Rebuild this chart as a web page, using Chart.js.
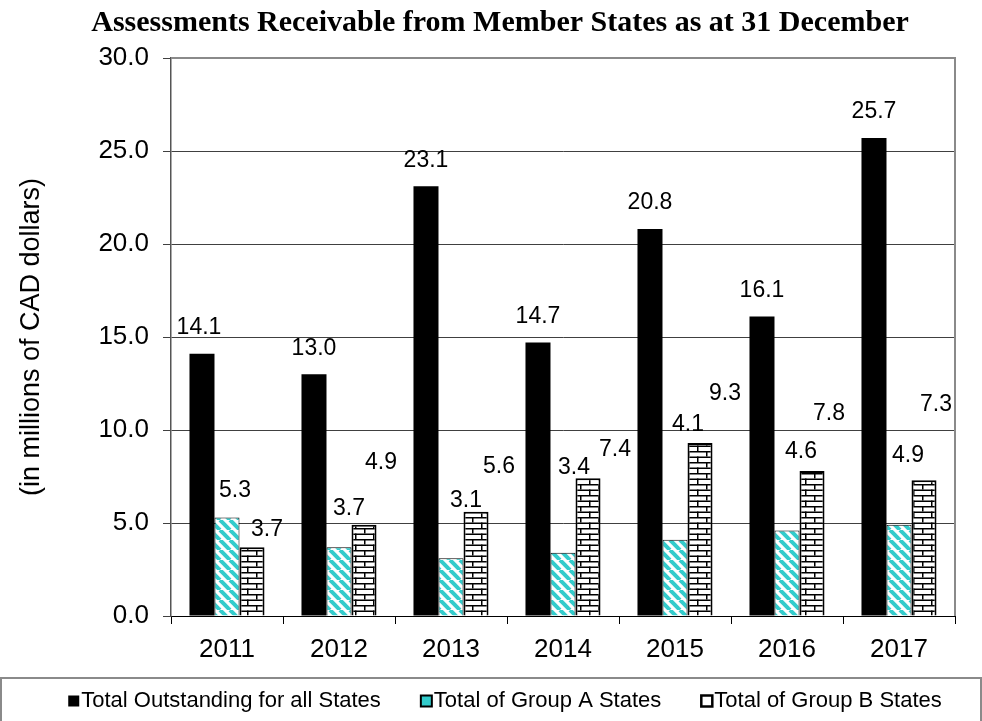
<!DOCTYPE html>
<html>
<head>
<meta charset="utf-8">
<script src="https://cdn.jsdelivr.net/npm/chart.js@4.4.1/dist/chart.umd.min.js"></script>
<style>
    html, body { margin: 0; padding: 0; background: #fff; }
    #wrap { width: 982px; height: 721px; }
</style>
</head>
<body>
<div id="wrap"><canvas id="assessmentsChart" width="982" height="721"></canvas></div>
<script>
const years = ['2011', '2012', '2013', '2014', '2015', '2016', '2017'];
const totalOutstanding = [14.1, 13.0, 23.1, 14.7, 20.8, 16.1, 25.7];
const groupA = [5.3, 3.7, 3.1, 3.4, 4.1, 4.6, 4.9];
const groupB = [3.7, 4.9, 5.6, 7.4, 9.3, 7.8, 7.3];
const yTicks = [0, 5, 10, 15, 20, 25, 30];

const chartTitle = 'Assessments Receivable from Member States as at 31 December';
const yTitle = '(in millions of CAD dollars)';
const seriesNames = [
    'Total Outstanding for all States',
    'Total of Group A States',
    'Total of Group B States'
];

// label nudges in px relative to the top of each bar (the labels in the original were dragged around)
const labelNudges = [
    [[-3, -26], [0, -26], [0, -26], [0, -26], [0, -26], [0, -26], [0, -26]],
    [[8, -27], [10, -39], [15, -58], [11, -85], [13, -115], [14, -79], [9, -69]],
    [[15, -18], [17, -62], [23, -45], [27, -29], [25, -49], [17, -57], [12, -76]]
];

const CYAN = '#33cccc';
const FONT = 'Arial, "Liberation Sans", sans-serif';

function stripePattern(ctx) {
    const c = document.createElement('canvas');
    c.width = 10;
    c.height = 10;
    const g = c.getContext('2d');
    g.fillStyle = '#fff';
    g.fillRect(0, 0, 10, 10);
    g.strokeStyle = CYAN;
    g.lineWidth = 4;
    [-10, 0, 10].forEach(off => {
        g.beginPath();
        g.moveTo(off, 0);
        g.lineTo(off + 10, 10);
        g.stroke();
    });
    return ctx.createPattern(c, 'repeat');
}

function brickPattern(ctx) {
    const c = document.createElement('canvas');
    c.width = 18;
    c.height = 11;
    const g = c.getContext('2d');
    g.fillStyle = '#fff';
    g.fillRect(0, 0, 18, 11);
    g.fillStyle = '#000';
    g.fillRect(0, 0, 18, 1.5);
    g.fillRect(0, 5.5, 18, 1.5);
    g.fillRect(4, 0, 1.5, 5.5);
    g.fillRect(13, 5.5, 1.5, 5.5);
    return ctx.createPattern(c, 'repeat');
}

const frameAndLabels = {
    id: 'frameAndLabels',
    afterDatasetsDraw(chart) {
        const ctx = chart.ctx;
        const area = chart.chartArea;

        // plot border top/right
        ctx.save();
        ctx.strokeStyle = '#8a8a8a';
        ctx.lineWidth = 2;
        ctx.beginPath();
        ctx.moveTo(area.left, area.top);
        ctx.lineTo(area.right, area.top);
        ctx.lineTo(area.right, area.bottom);
        ctx.stroke();
        ctx.restore();

        // value labels
        ctx.save();
        ctx.font = '23px ' + FONT;
        ctx.fillStyle = '#000';
        ctx.textAlign = 'center';
        ctx.textBaseline = 'middle';
        chart.data.datasets.forEach((ds, i) => {
            chart.getDatasetMeta(i).data.forEach((bar, j) => {
                const nudge = labelNudges[i][j];
                ctx.fillText(ds.data[j].toFixed(1), bar.x + nudge[0], bar.y + nudge[1]);
            });
        });
        ctx.restore();
    },
    afterDraw(chart) {
        const ctx = chart.ctx;
        ctx.save();

        // title
        ctx.fillStyle = '#000';
        ctx.font = 'bold 30px "Liberation Serif", "Times New Roman", serif';
        ctx.textAlign = 'center';
        ctx.textBaseline = 'middle';
        ctx.fillText(chartTitle, 500, 23);

        // legend frame
        ctx.strokeStyle = '#8a8a8a';
        ctx.lineWidth = 2;
        ctx.strokeRect(1, 678, 980, 60);

        ctx.font = '22px ' + FONT;
        ctx.textBaseline = 'middle';
        ctx.textAlign = 'left';
        const box = 11, gapText = 2, gapItem = 40;
        const widths = seriesNames.map(n => box + gapText + ctx.measureText(n).width);
        const total = widths.reduce((a, b) => a + b, 0) + gapItem * (widths.length - 1);
        let x = 505 - total / 2;
        const cy = 701;
        seriesNames.forEach((name, i) => {
            const bx = x, by = cy - box / 2;
            if (i === 0) {
                ctx.fillStyle = '#000';
                ctx.fillRect(bx, by, box, box);
            } else if (i === 1) {
                ctx.fillStyle = CYAN;
                ctx.fillRect(bx, by, box, box);
                ctx.strokeStyle = '#000';
                ctx.lineWidth = 2;
                ctx.strokeRect(bx, by, box, box);
            } else {
                ctx.fillStyle = '#fff';
                ctx.fillRect(bx, by, box, box);
                ctx.strokeStyle = '#000';
                ctx.lineWidth = 2.5;
                ctx.strokeRect(bx, by, box, box);
            }
            ctx.fillStyle = '#000';
            ctx.fillText(name, bx + box + gapText, cy);
            x += widths[i] + gapItem;
        });
        ctx.restore();
    }
};

document.addEventListener('DOMContentLoaded', function() {
    const ctx = document.getElementById('assessmentsChart').getContext('2d');

    new Chart(ctx, {
        type: 'bar',
        data: {
            labels: years,
            datasets: [
                {
                    label: seriesNames[0],
                    data: totalOutstanding,
                    backgroundColor: '#000',
                    borderWidth: 0
                },
                {
                    label: seriesNames[1],
                    data: groupA,
                    backgroundColor: stripePattern(ctx),
                    borderColor: '#000',
                    borderWidth: 1
                },
                {
                    label: seriesNames[2],
                    data: groupB,
                    backgroundColor: brickPattern(ctx),
                    borderColor: '#000',
                    borderWidth: 2
                }
            ]
        },
        options: {
            responsive: false,
            animation: false,
            layout: {
                padding: { left: 0, right: 27, top: 58, bottom: 55 }
            },
            datasets: {
                bar: {
                    categoryPercentage: 0.67,
                    barPercentage: 1.0
                }
            },
            scales: {
                x: {
                    grid: {
                        drawOnChartArea: false,
                        tickLength: 8,
                        color: '#000'
                    },
                    border: { color: '#000', width: 1 },
                    ticks: {
                        color: '#000',
                        font: { family: FONT, size: 26 },
                        padding: 10
                    },
                    afterFit(scale) {
                        scale.height = 50;
                    }
                },
                y: {
                    min: 0,
                    max: 30,
                    afterBuildTicks(scale) {
                        scale.ticks = yTicks.map(v => ({ value: v }));
                    },
                    grid: {
                        color: '#404040',
                        tickLength: 8
                    },
                    border: { color: '#555', width: 1.5 },
                    ticks: {
                        color: '#000',
                        font: { family: FONT, size: 26 },
                        padding: 14,
                        callback: v => Number(v).toFixed(1)
                    },
                    title: {
                        display: true,
                        text: yTitle,
                        color: '#000',
                        font: { family: FONT, size: 27 },
                        padding: { top: 15, bottom: 0 }
                    },
                    afterFit(scale) {
                        scale.width = 171;
                    }
                }
            },
            plugins: {
                legend: { display: false },
                tooltip: { enabled: false },
                title: { display: false }
            }
        },
        plugins: [frameAndLabels]
    });
});
</script>
</body>
</html>
